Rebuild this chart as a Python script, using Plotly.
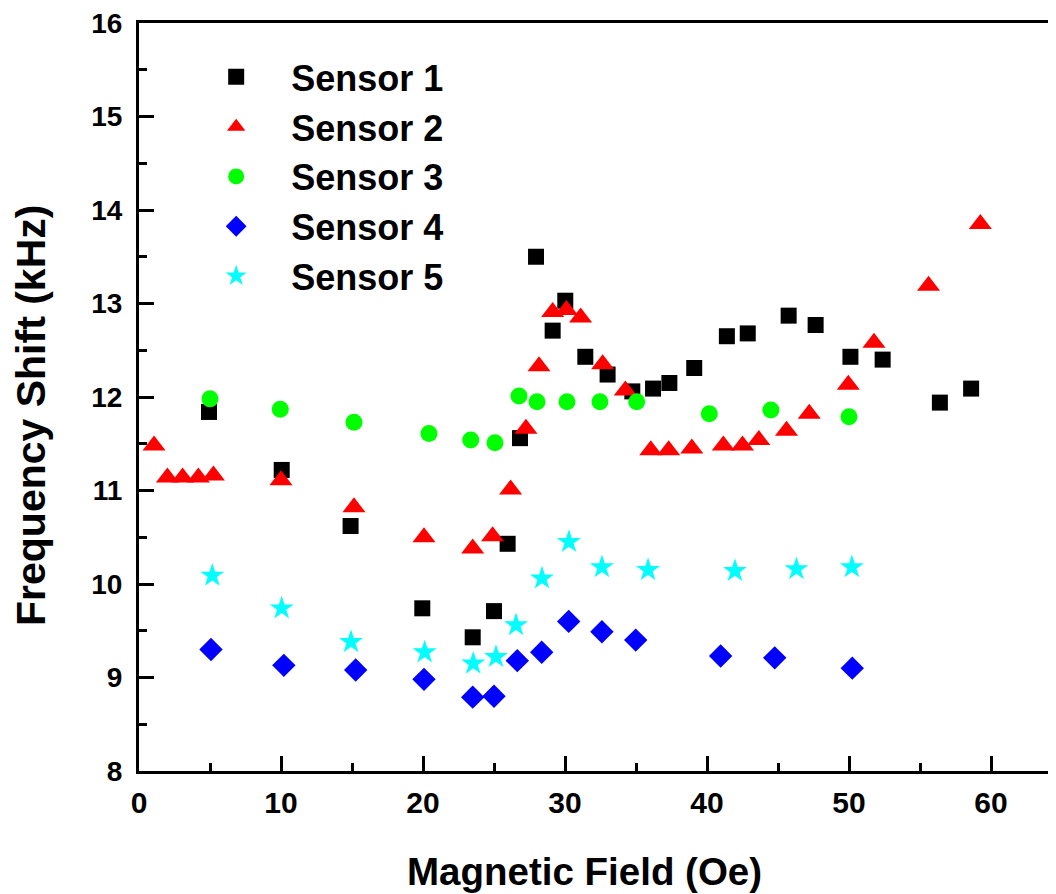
import plotly.graph_objects as go

# Sensor 1
s1_x = [4.93, 10.05, 14.9, 19.95, 23.5, 25.0, 25.96, 26.83, 27.96, 29.13, 30.02, 31.43, 33.0,
        34.74, 36.2, 37.35, 39.1, 41.4, 42.87, 45.75, 47.65, 50.1, 52.37, 56.4, 58.6]
s1_y = [11.84, 11.22, 10.62, 9.74, 9.43, 9.71, 10.43, 11.56, 13.50, 12.71, 13.03, 12.43, 12.24,
        12.06, 12.09, 12.15, 12.31, 12.65, 12.68, 12.87, 12.77, 12.43, 12.40, 11.94, 12.09]
# Sensor 2
s2_x = [1.06, 2.0, 3.07, 4.18, 5.24, 10.0, 15.14, 20.07, 23.5, 24.9, 26.17, 27.25, 28.17, 29.13,
        30.1, 31.1, 32.65, 34.25, 36.04, 37.3, 38.93, 41.15, 42.5, 43.65, 45.6, 47.2, 49.95,
        51.76, 55.6, 59.25]
s2_y = [11.48, 11.14, 11.14, 11.14, 11.16, 11.11, 10.82, 10.50, 10.38, 10.51, 11.01, 11.66, 12.33,
        12.91, 12.93, 12.85, 12.35, 12.07, 11.43, 11.43, 11.45, 11.48, 11.48, 11.54, 11.64, 11.82,
        12.13, 12.58, 13.19, 13.85]
# Sensor 3
s3_x = [5.0, 9.95, 15.14, 20.42, 23.36, 25.07, 26.76, 28.03, 30.14, 32.46, 35.05, 40.16, 44.5, 50.0]
s3_y = [11.98, 11.87, 11.73, 11.61, 11.54, 11.51, 12.01, 11.95, 11.95, 11.95, 11.95, 11.82, 11.86, 11.79]
# Sensor 4
s4_x = [5.07, 10.2, 15.26, 20.07, 23.5, 25.0, 26.64, 28.36, 30.26, 32.6, 34.98, 40.96, 44.77, 50.23]
s4_y = [9.30, 9.13, 9.08, 8.98, 8.79, 8.80, 9.18, 9.27, 9.60, 9.49, 9.40, 9.23, 9.21, 9.10]
# Sensor 5
s5_x = [5.16, 10.05, 14.93, 20.12, 23.54, 25.14, 26.55, 28.38, 30.28, 32.6, 35.85, 41.97, 46.3, 50.2]
s5_y = [10.09, 9.74, 9.38, 9.27, 9.15, 9.22, 9.56, 10.06, 10.45, 10.18, 10.15, 10.14, 10.16, 10.18]

names = ["Sensor 1", "Sensor 2", "Sensor 3", "Sensor 4", "Sensor 5"]
xs = [s1_x, s2_x, s3_x, s4_x, s5_x]
ys = [s1_y, s2_y, s3_y, s4_y, s5_y]
colors = ["#000000", "#FF0000", "#00FF00", "#0000FF", "#00FFFF"]
symbols = ["square", "triangle-up", "circle", "diamond", "star"]
sizes = [16, 20, 17, 18, 18]

x_title = "Magnetic Field (Oe)"
y_title = "Frequency Shift (kHz)"

FONT = "Liberation Sans, Arial, sans-serif"

fig = go.Figure()
for n, x, y, c, s, sz in zip(names, xs, ys, colors, symbols, sizes):
    fig.add_trace(go.Scatter(x=x, y=y, mode="markers", name=n,
                             marker=dict(color=c, symbol=s, size=sz, line=dict(width=0))))

# page has an 8px body margin; figure sized so the plot area lands where the reference has it
W, H = 1048, 886
L, T, B = 131, 15, 123
plot_w = W - L
plot_h = H - T - B
x_max = plot_w / 14.2

axis_common = dict(showgrid=False, zeroline=False, showline=True, linecolor="black", linewidth=3,
                   ticks="inside", tickwidth=3, ticklen=15, tickcolor="black", automargin=False,
                   ticklabeloverflow="allow")

fig.update_layout(
    width=W, height=H,
    margin=dict(l=L, r=0, t=T, b=B, autoexpand=False),
    paper_bgcolor="white", plot_bgcolor="white",
    font=dict(family=FONT, color="black", weight="bold"),
    xaxis=dict(range=[0, x_max], dtick=10, tick0=0, mirror=True,
               tickfont=dict(size=30, family=FONT, weight="bold"), ticklabelstandoff=3,
               minor=dict(dtick=5, ticks="inside", ticklen=8, tickwidth=3, tickcolor="black"),
               **axis_common),
    yaxis=dict(range=[8, 16], dtick=1, tick0=8, mirror=False,
               tickfont=dict(size=28, family=FONT, weight="bold"), ticklabelstandoff=8,
               minor=dict(dtick=0.5, ticks="inside", ticklen=8, tickwidth=3, tickcolor="black"),
               **axis_common),
    legend=dict(x=0.046, y=0.968, xanchor="left", yanchor="top", bgcolor="rgba(0,0,0,0)",
                font=dict(size=36, family=FONT, weight="bold"), itemwidth=100),
    showlegend=True,
)

# axis titles as annotations placed in paper coordinates of the plot area
fig.add_annotation(text=x_title, xref="paper", yref="paper",
                   x=(584 - 139) / plot_w, y=(771 - 871) / plot_h,
                   xanchor="center", yanchor="middle", showarrow=False,
                   font=dict(size=38.5, family=FONT, weight="bold", color="black"))
fig.add_annotation(text=y_title, xref="paper", yref="paper", textangle=-90,
                   x=(31 - 139) / plot_w, y=(771 - 416) / plot_h,
                   xanchor="center", yanchor="middle", showarrow=False,
                   font=dict(size=41, family=FONT, weight="bold", color="black"))

fig.write_html("out.html")
